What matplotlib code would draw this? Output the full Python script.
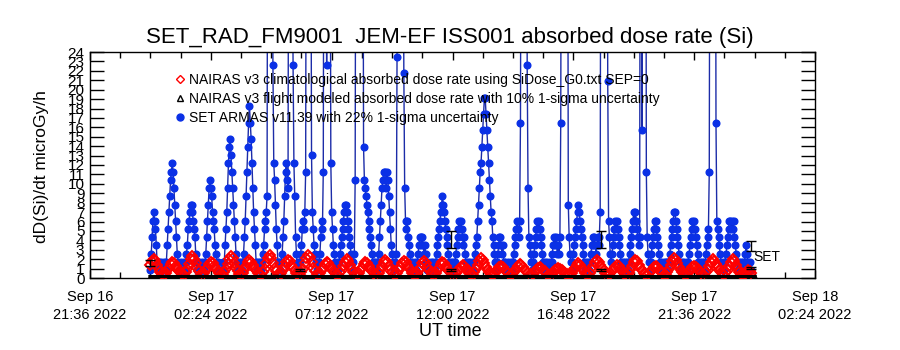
import numpy as np
import matplotlib
matplotlib.use("Agg")
import matplotlib.pyplot as plt
from matplotlib.lines import Line2D
from matplotlib.ticker import FixedLocator

plt.rcParams['font.family'] = ['Liberation Sans', 'DejaVu Sans']

# ---------------- text ----------------
title = "SET_RAD_FM9001  JEM-EF ISS001 absorbed dose rate (Si)"
y_label = "dD(Si)/dt microGy/h"
x_label = "UT time"
legend_labels = [
    "NAIRAS v3 climatological absorbed dose rate using SiDose_G0.txt SEP=0",
    "NAIRAS v3 flight modeled absorbed dose rate with 10% 1-sigma uncertainty",
    "SET ARMAS v11.39 with 22% 1-sigma uncertainty",
]
set_tag = "SET"

# x axis: hours from 2022-09-17 00:00 UT
x_tick_hours = [-2.4, 2.4, 7.2, 12.0, 16.8, 21.6, 26.4]
x_tick_labels = ["Sep 16\n21:36 2022", "Sep 17\n02:24 2022", "Sep 17\n07:12 2022",
                 "Sep 17\n12:00 2022", "Sep 17\n16:48 2022", "Sep 17\n21:36 2022",
                 "Sep 18\n02:24 2022"]
x_minor_hours = [-1.2, 0.0, 1.2, 3.6, 4.8, 6.0, 8.4, 9.6, 10.8, 13.2, 14.4, 15.6,
                 18.0, 19.2, 20.4, 22.8, 24.0, 25.2]
y_tick_values = list(range(0, 25))
y_tick_labels = [str(v) for v in y_tick_values]

# ---------------- data ----------------
# SET ARMAS dose rate, one sample every 2 minutes from 00:00 UT
blue_step_h = 2.0 / 60.0
blue_values = [
    0.9, 2.6, 4.4, 6.1, 7.0, 6.1, 5.2, 3.5, 1.7, 0.9, 1.7, 0.9, 0.9, 1.7, 0.9,
    0.9, 1.7, 0.9, 0.9, 1.7, 3.5, 5.2, 7.0, 8.7, 10.4, 11.3, 12.2, 11.3, 9.6, 7.8, 6.1, 4.4, 2.6, 1.7, 0.9, 0.9, 1.7, 0.9,
    0.9, 0.9, 1.7, 0.9, 1.7, 2.6, 3.5, 5.2, 6.1, 7.0, 7.8, 7.8, 7.0, 6.1, 5.2, 4.4, 2.6, 1.7, 0.9, 0.9, 1.7, 0.9, 0.9,
    0.9, 1.7, 0.9, 0.9, 1.7, 2.6, 4.4, 6.1, 7.8, 9.6, 10.4, 9.6, 8.7, 7.0, 6.1, 5.2, 3.5, 2.6, 1.7, 0.9, 1.7, 0.9, 0.9,
    0.9, 0.9, 1.7, 0.9, 1.7, 3.5, 5.2, 7.0, 9.6, 12.2, 13.9, 14.8, 13.1, 11.3, 9.6, 7.8, 6.1, 4.4, 2.6, 1.7, 0.9, 0.9, 1.7,
    0.9, 1.7, 0.9, 1.7, 2.6, 4.4, 6.1, 8.7, 11.3, 13.9, 16.5, 18.3, 16.5, 14.8, 12.2, 9.6, 7.0, 5.2, 3.5, 1.7, 0.9, 1.7, 0.9,
    0.9, 1.7, 0.9, 1.7, 2.6, 3.5, 5.2, 6.1, 7.0, 8.7, 60, 90, 70, 85, 50, 40, 22.6, 12.2, 10.4, 7.8, 5.2, 3.5, 1.7,
    1.7, 0.9, 0.9, 1.7, 2.6, 4.4, 6.1, 8.7, 11.3, 12.2, 10.4, 9.6, 60, 75, 90, 60, 40, 22.6, 12.2, 8.7, 4.4, 2.6, 0.9,
    1.7, 0.9, 1.7, 2.6, 3.5, 5.2, 6.1, 5.2, 7.0, 11.3, 60, 80, 90, 70, 60, 50, 13.1, 7.0, 5.2, 3.5, 2.6, 1.7, 0.9,
    1.7, 0.9, 1.7, 2.6, 4.4, 6.1, 5.2, 11.3, 60, 80, 70, 22.6, 60, 90, 75, 50, 12.2, 7.0, 5.2, 3.5, 2.6, 1.7, 0.9,
    0.9, 1.7, 0.9, 1.7, 2.6, 3.5, 4.4, 5.2, 6.1, 7.0, 7.8, 7.8, 7.0, 6.1, 5.2, 4.4, 3.5, 2.6, 1.7, 0.9, 1.7, 2.6, 10.4,
    60, 80, 70, 90, 60, 50, 80, 70, 60, 13.9, 10.4, 9.6, 8.7, 7.8, 7.0, 6.1, 5.2, 4.4, 3.5, 2.6, 1.7, 0.9, 1.7,
    0.9, 1.7, 0.9, 1.7, 2.6, 4.4, 6.1, 7.8, 9.6, 10.4, 11.3, 11.3, 10.4, 9.6, 11.3, 10.4, 8.7, 7.0, 5.2, 3.5, 2.6, 1.7, 0.9,
    1.7, 0.9, 2.6, 23.5, 60, 80, 90, 70, 85, 60, 50, 21.8, 9.6, 6.1, 5.2, 6.1, 4.4, 3.5, 2.6, 1.7, 0.9, 1.7, 0.9,
    0.9, 1.7, 0.9, 0.9, 1.7, 2.6, 3.5, 4.4, 4.4, 3.5, 4.4, 3.5, 2.6, 3.5, 2.6, 1.7, 0.9, 1.7, 0.9, 0.9, 1.7, 0.9, 0.9,
    1.7, 0.9, 0.9, 1.7, 2.6, 3.5, 4.4, 5.2, 6.1, 7.0, 7.8, 8.7, 7.8, 7.0, 6.1, 5.2, 4.4, 3.5, 2.6, 1.7, 0.9, 1.7, 0.9,
    0.9, 1.7, 0.9, 1.7, 2.6, 3.5, 4.4, 5.2, 6.1, 5.2, 6.1, 5.2, 4.4, 3.5, 4.4, 2.6, 1.7, 0.9, 1.7, 0.9, 0.9, 1.7, 0.9,
    0.9, 1.7, 0.9, 1.7, 2.6, 3.5, 4.4, 6.1, 7.8, 9.6, 11.3, 12.2, 13.9, 15.7, 17.4, 19.1, 19.1, 17.4, 15.7, 13.9, 12.2, 10.4, 8.7,
    7.0, 6.1, 4.4, 3.5, 2.6, 1.7, 0.9, 1.7, 2.6, 3.5, 4.4, 4.4, 3.5, 2.6, 3.5, 1.7, 0.9, 1.7, 0.9, 0.9, 1.7, 0.9, 0.9,
    0.9, 1.7, 0.9, 1.7, 2.6, 3.5, 4.4, 5.2, 6.1, 5.2, 4.4, 6.1, 16.5, 60, 80, 90, 70, 60, 85, 70, 22.6, 9.6, 4.4,
    3.5, 2.6, 1.7, 0.9, 1.7, 2.6, 3.5, 4.4, 5.2, 6.1, 5.2, 6.1, 5.2, 4.4, 3.5, 2.6, 1.7, 0.9, 1.7, 0.9, 0.9, 1.7, 0.9,
    0.9, 1.7, 0.9, 1.7, 2.6, 3.5, 4.4, 3.5, 4.4, 3.5, 2.6, 3.5, 2.6, 4.4, 16.5, 60, 80, 90, 75, 60, 85, 70, 60,
    7.8, 4.4, 2.6, 1.7, 0.9, 1.7, 2.6, 3.5, 4.4, 5.2, 6.1, 7.0, 7.8, 7.0, 6.1, 5.2, 4.4, 3.5, 2.6, 1.7, 0.9, 1.7, 0.9,
    0.9, 1.7, 0.9, 1.7, 2.6, 3.5, 4.4, 3.5, 4.4, 3.5, 2.6, 3.5, 4.4, 3.5, 4.4, 7.0, 60, 80, 90, 70, 60, 85, 75,
    60, 20.9, 6.1, 4.4, 2.6, 1.7, 2.6, 3.5, 4.4, 5.2, 6.1, 5.2, 6.1, 5.2, 4.4, 3.5, 2.6, 1.7, 0.9, 1.7, 0.9, 0.9, 1.7,
    0.9, 1.7, 0.9, 1.7, 2.6, 3.5, 4.4, 5.2, 6.1, 7.0, 6.1, 7.0, 6.1, 5.2, 4.4, 3.5, 4.4, 60, 80, 15.7, 60, 90, 70,
    75, 11.3, 4.4, 2.6, 1.7, 0.9, 1.7, 2.6, 3.5, 4.4, 5.2, 6.1, 6.1, 5.2, 4.4, 3.5, 2.6, 1.7, 0.9, 1.7, 0.9, 0.9, 1.7,
    0.9, 1.7, 0.9, 1.7, 0.9, 1.7, 2.6, 3.5, 4.4, 5.2, 6.1, 7.0, 7.0, 6.1, 5.2, 4.4, 3.5, 2.6, 1.7, 0.9, 1.7, 0.9, 0.9,
    1.7, 0.9, 0.9, 1.7, 0.9, 1.7, 2.6, 3.5, 4.4, 5.2, 6.1, 5.2, 6.1, 5.2, 4.4, 3.5, 2.6, 1.7, 0.9, 1.7, 0.9, 1.7, 0.9,
    0.9, 1.7, 0.9, 2.6, 3.5, 4.4, 5.2, 11.3, 60, 80, 90, 70, 60, 85, 70, 16.5, 6.1, 5.2, 4.4, 3.5, 2.6, 1.7, 0.9,
    0.9, 1.7, 0.9, 1.7, 2.6, 3.5, 4.4, 5.2, 6.1, 6.1, 5.2, 6.1, 5.2, 6.1, 4.4, 3.5, 2.6, 1.7, 0.9, 1.7, 0.9, 0.9, 1.7,
    0.9, 1.7, 0.9, 1.7, 2.6, 3.5, 2.6, 1.7, 0.9, 1.7, 0.9, 0.9,
]

# NAIRAS v3 climatological dose rate, one sample every 4 minutes from 00:00 UT
red_step_h = 4.0 / 60.0
red_values = [
    1.4, 1.8, 2.0, 1.8, 1.4, 1.0, 0.6, 0.4,
    0.3, 0.5, 0.8, 1.1, 1.5, 1.7, 1.6, 1.3, 1.0, 0.7, 0.5, 0.4,
    0.3, 0.6, 1.0, 1.5, 2.0, 2.3, 2.0, 1.6, 1.1, 0.7, 0.4,
    0.3, 0.5, 0.8, 1.1, 1.5, 1.7, 1.6, 1.3, 1.0, 0.7, 0.5, 0.3,
    0.3, 0.6, 1.0, 1.5, 2.0, 2.3, 2.1, 1.6, 1.1, 0.7, 0.4,
    0.3, 0.5, 0.9, 1.3, 1.7, 1.9, 1.7, 1.4, 1.1, 0.8, 0.5, 0.4,
    0.3, 0.6, 1.0, 1.6, 2.1, 2.4, 2.1, 1.6, 1.1, 0.7, 0.4,
    0.3, 0.5, 0.9, 1.3, 1.7, 1.9, 1.8, 1.4, 1.1, 0.8, 0.5, 0.3,
    0.3, 0.6, 1.0, 1.6, 2.1, 2.4, 2.2, 1.7, 1.1, 0.7, 0.4,
    0.3, 0.5, 0.8, 1.1, 1.5, 1.7, 1.6, 1.3, 1.0, 0.7, 0.5, 0.4,
    0.3, 0.6, 0.9, 1.3, 1.7, 2.0, 1.8, 1.4, 1.0, 0.6, 0.4,
    0.3, 0.5, 0.8, 1.1, 1.5, 1.7, 1.6, 1.3, 1.0, 0.7, 0.5, 0.3,
    0.3, 0.5, 0.9, 1.3, 1.7, 1.9, 1.7, 1.3, 0.9, 0.6, 0.4,
    0.3, 0.5, 0.8, 1.2, 1.6, 1.8, 1.7, 1.4, 1.1, 0.8, 0.5, 0.4,
    0.3, 0.5, 0.8, 1.2, 1.6, 1.8, 1.6, 1.2, 0.9, 0.6, 0.4,
    0.3, 0.5, 0.8, 1.1, 1.5, 1.7, 1.6, 1.3, 1.0, 0.7, 0.5, 0.3,
    0.3, 0.5, 0.7, 1.0, 1.2, 1.4, 1.3, 1.0, 0.8, 0.5, 0.4,
    0.3, 0.6, 1.0, 1.4, 1.8, 2.1, 1.9, 1.6, 1.2, 0.9, 0.6, 0.4,
    0.3, 0.5, 0.7, 0.9, 1.2, 1.3, 1.2, 0.9, 0.7, 0.5, 0.3,
    0.3, 0.5, 0.7, 1.0, 1.3, 1.5, 1.4, 1.2, 0.9, 0.7, 0.5, 0.4,
    0.3, 0.4, 0.6, 0.9, 1.1, 1.2, 1.1, 0.9, 0.7, 0.5, 0.3,
    0.3, 0.4, 0.6, 0.8, 1.0, 1.1, 1.0, 0.9, 0.7, 0.5, 0.4, 0.3,
    0.3, 0.5, 0.8, 1.1, 1.4, 1.6, 1.4, 1.1, 0.8, 0.5, 0.4,
    0.3, 0.5, 0.9, 1.3, 1.7, 1.9, 1.7, 1.4, 1.1, 0.8, 0.5, 0.4,
    0.3, 0.5, 0.7, 1.0, 1.2, 1.4, 1.3, 1.0, 0.8, 0.5, 0.3,
    0.3, 0.5, 0.9, 1.3, 1.7, 1.9, 1.8, 1.4, 1.1, 0.8, 0.5, 0.4,
    0.3, 0.5, 0.7, 0.9, 1.2, 1.3, 1.2, 0.9, 0.7, 0.5, 0.3,
    0.3, 0.6, 1.0, 1.4, 1.8, 2.1, 1.9, 1.6, 1.2, 0.9, 0.6, 0.4,
    0.3, 0.5, 0.7, 0.9, 1.2, 1.3, 1.2, 1.0, 0.7, 0.5, 0.3,
    0.3, 0.6, 0.9, 1.3, 1.7, 2.0, 1.8, 1.5, 1.2, 0.8, 0.6, 0.4,
    0.3, 0.6, 0.9, 1.3, 1.7, 2.0, 1.8, 1.4, 1.0, 0.6, 0.4,
    0.3, 0.4, 0.6, 0.8, 0.7, 0.5,
]

# NAIRAS v3 flight modeled dose rate, hourly from 00:00 UT
flight_step_h = 1.0
flight_values = [0.10, 0.10, 0.11, 0.10, 0.10, 0.12, 0.10, 0.10, 0.11, 0.10, 0.10, 0.10, 0.11,
                 0.10, 0.10, 0.12, 0.10, 0.10, 0.11, 0.10, 0.10, 0.10, 0.11, 0.10, 0.10]

# uncertainty markers
set_err_hours = [0.0, 11.95, 17.9, 23.85]
set_err_values = [1.6, 4.1, 4.1, 3.4]
set_err_sigma = [0.35, 0.9, 0.9, 0.55]
flight_err_hours = [5.95, 11.95, 17.9, 23.85]
flight_err_values = [0.85, 0.85, 0.85, 1.06]
flight_err_sigma = [0.09, 0.09, 0.09, 0.11]
set_tag_hour = 23.95
set_tag_value = 2.2

# ---------------- figure ----------------
W, H = 900, 350
fig = plt.figure(figsize=(9.0, 3.5), dpi=100)
ax = fig.add_axes([90 / W, 1 - 278 / H, 725 / W, 226 / H])

blue_t = np.arange(len(blue_values)) * blue_step_h
red_t = np.arange(len(red_values)) * red_step_h
flight_t = np.arange(len(flight_values)) * flight_step_h

blue_line_c = '#1c2ca8'
blue_dot_c = '#0a30e6'
red_c = '#ff0000'

ax.plot(blue_t, blue_values, color=blue_line_c, lw=1.0, zorder=2)
ax.plot(blue_t, blue_values, ls='none', marker='o', ms=4.8, mfc=blue_dot_c,
        mec=blue_dot_c, zorder=3)
ax.plot(red_t, red_values, ls='none', marker='D', ms=5.0, mfc='none',
        mec=red_c, mew=1.4, zorder=4)
ax.plot(flight_t, flight_values, color='black', lw=3.0, marker='^', ms=3,
        mfc='none', mec='black', zorder=5)
ax.errorbar(set_err_hours, set_err_values, yerr=set_err_sigma, fmt='none',
            ecolor='black', elinewidth=1.0, capsize=3.5, capthick=1.0, zorder=6)
ax.errorbar(flight_err_hours, flight_err_values, yerr=flight_err_sigma, fmt='none',
            ecolor='black', elinewidth=1.0, capsize=3.5, capthick=1.0, zorder=6)
ax.text(set_tag_hour, set_tag_value, set_tag, fontsize=10, ha='left', va='center',
        color='black', zorder=7)

ax.set_xlim(x_tick_hours[0], x_tick_hours[-1])
ax.set_ylim(0, 24)
ax.set_xticks(x_tick_hours)
ax.set_xticklabels(x_tick_labels, fontsize=10.5, linespacing=1.4)
ax.xaxis.set_minor_locator(FixedLocator(x_minor_hours))
ax.set_yticks(y_tick_values)
ax.set_yticklabels(y_tick_labels, fontsize=11)

ax.tick_params(axis='x', which='major', direction='in', length=6, width=1,
               top=True, bottom=True, pad=8.5)
ax.tick_params(axis='x', which='minor', direction='in', length=4, width=1,
               top=True, bottom=True)
ax.tick_params(axis='y', which='major', direction='in', length=10, width=1,
               left=True, right=True, pad=4)
for s in ax.spines.values():
    s.set_linewidth(1.0)

fig.text(450 / W, 1 - 38 / H, title, fontsize=16, ha='center', va='center')
fig.text(42 / W, 1 - 167 / H, y_label, fontsize=12.5, rotation=90, ha='center', va='center')
fig.text(450 / W, 1 - 331 / H, x_label, fontsize=13, ha='center', va='center')

handles = [
    Line2D([], [], ls='none', marker='D', ms=4, mfc='none', mec=red_c, mew=1),
    Line2D([], [], ls='none', marker='^', ms=5, mfc='none', mec='black', mew=1),
    Line2D([], [], ls='none', marker='o', ms=5, mfc=blue_dot_c, mec=blue_dot_c),
]
leg = fig.legend(handles, legend_labels, loc='upper left',
                 bbox_to_anchor=(174 / W, 1 - 73 / H), frameon=False, fontsize=10,
                 handlelength=0.8, handletextpad=0.25, labelspacing=0.36,
                 borderpad=0, borderaxespad=0)
leg.set_zorder(10)

fig.savefig("out.png", dpi=100)
